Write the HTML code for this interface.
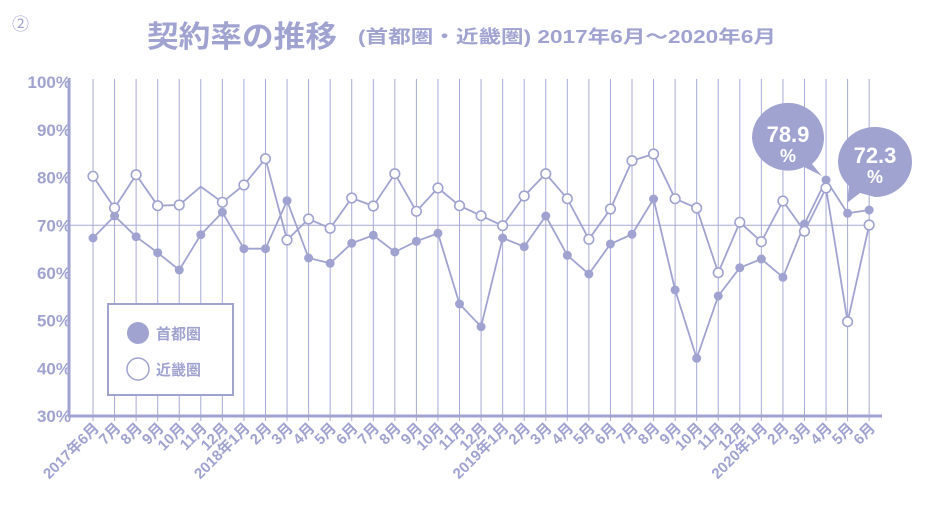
<!DOCTYPE html>
<html><head><meta charset="utf-8"><style>
html,body{margin:0;padding:0;background:#fff;}
svg{display:block;}
text{font-family:"Liberation Sans","Noto Sans CJK JP",sans-serif;font-weight:bold;fill:#a0a3d0;}
</style></head><body>
<svg width="931" height="525" viewBox="0 0 931 525" xmlns="http://www.w3.org/2000/svg">
<text x="12" y="30" font-size="17" style="font-weight:normal">②</text>
<text x="147" y="47" font-size="30" textLength="190" lengthAdjust="spacingAndGlyphs">契約率の推移</text>
<text x="358" y="43" font-size="18" textLength="418" lengthAdjust="spacingAndGlyphs">(首都圏・近畿圏) 2017年6月～2020年6月</text>
<g id="grid" stroke="#a7aad6" stroke-width="1"></g>
<line x1="68" y1="225.3" x2="872" y2="225.3" stroke="#a7aad6" stroke-width="1"/>
<line x1="69" y1="78" x2="69" y2="417" stroke="#a0a3d0" stroke-width="3"/>
<line x1="68" y1="416" x2="882" y2="416" stroke="#a0a3d0" stroke-width="3"/>
<g id="ylab" font-size="17" text-anchor="end"></g>
<g id="xlab" font-size="15" text-anchor="end"></g>
<g id="series"></g>
<rect x="108" y="304" width="125" height="91" fill="#fff" stroke="#a0a3d0" stroke-width="2"/>
<circle cx="138" cy="333" r="11" fill="#a0a3d0"/>
<circle cx="138" cy="369" r="11" fill="#fff" stroke="#a0a3d0" stroke-width="1.5"/>
<text x="156" y="339" font-size="15">首都圏</text>
<text x="156" y="375" font-size="15">近畿圏</text>
<path d="M752,138 a36,35 0 1,1 60,26 L822,176 L804,167 a36,35 0 0,1 -52,-29z" fill="#a0a3d0"/>
<text x="788" y="142" font-size="22" text-anchor="middle" style="fill:#fff">78.9</text>
<text x="788" y="162" font-size="18" text-anchor="middle" style="fill:#fff">%</text>
<path d="M838,162 a37,35 0 1,1 37,35 L860,193 L847,203 L849,186 a37,35 0 0,1 -11,-24z" fill="#a0a3d0"/>
<text x="875" y="163" font-size="22" text-anchor="middle" style="fill:#fff">72.3</text>
<text x="875" y="183" font-size="18" text-anchor="middle" style="fill:#fff">%</text>
</svg>
<script>
const NS="http://www.w3.org/2000/svg";
const X=i=>93+i*21.56;
const g=document.getElementById('grid');
for(let i=0;i<37;i++){const l=document.createElementNS(NS,'line');l.setAttribute('x1',X(i));l.setAttribute('x2',X(i));l.setAttribute('y1',79);l.setAttribute('y2',421);g.appendChild(l);}
const yl=document.getElementById('ylab');
for(let v=30;v<=100;v+=10){const t=document.createElementNS(NS,'text');const y=225.3-(v-70)*4.77;t.setAttribute('x',71);t.setAttribute('y',y+6);t.textContent=v+'%';yl.appendChild(t);}
const labs=['2017年6月','7月','8月','9月','10月','11月','12月','2018年1月','2月','3月','4月','5月','6月','7月','8月','9月','10月','11月','12月','2019年1月','2月','3月','4月','5月','6月','7月','8月','9月','10月','11月','12月','2020年1月','2月','3月','4月','5月','6月'];
const xl=document.getElementById('xlab');
labs.forEach((s,i)=>{const t=document.createElementNS(NS,'text');const x=X(i)+7,y=429;t.setAttribute('x',x);t.setAttribute('y',y);t.setAttribute('transform',`rotate(-45 ${x} ${y})`);t.textContent=s;xl.appendChild(t);});
const A=[238,216,236.7,252.7,270,234.7,212.3,248.7,248.7,200.7,258,263.3,243.3,235.3,252,241.3,233.3,304,326.7,238,246.7,216,255.3,274,244,234.3,199,290,358.3,296,267.7,259,277.3,224,180,213.3,210];
const B=[176.3,208,174.7,205.7,205,186.7,202.3,185,158.7,240,219,228.3,198,206,173.7,211.3,188,205.7,215.7,225.7,196,173.7,198.7,239.3,209,160.7,154,198.7,208,272.7,222.3,241.7,201,231.3,188,321.7,225];
const s=document.getElementById('series');
function line(d){const p=document.createElementNS(NS,'polyline');p.setAttribute('points',d.map((y,i)=>X(i)+','+y).join(' '));p.setAttribute('fill','none');p.setAttribute('stroke','#a0a3d0');p.setAttribute('stroke-width','1.8');s.appendChild(p);}
line(A);line(B);
A.forEach((y,i)=>{const c=document.createElementNS(NS,'circle');c.setAttribute('cx',X(i));c.setAttribute('cy',y);c.setAttribute('r',4.5);c.setAttribute('fill','#a0a3d0');s.appendChild(c);});
B.forEach((y,i)=>{if(i==5)return;const c=document.createElementNS(NS,'circle');c.setAttribute('cx',X(i));c.setAttribute('cy',y);c.setAttribute('r',4.8);c.setAttribute('fill','#fff');c.setAttribute('stroke','#a0a3d0');c.setAttribute('stroke-width','1.6');s.appendChild(c);});
</script>
</body></html>
